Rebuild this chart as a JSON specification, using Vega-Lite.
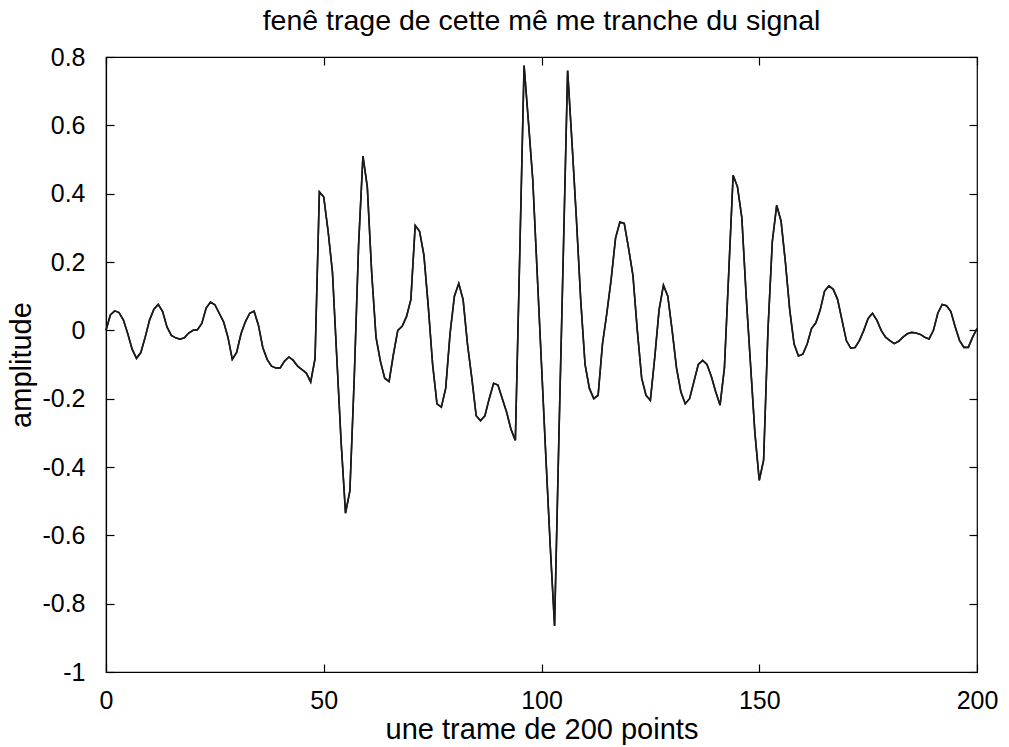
{
  "$schema": "https://vega.github.io/schema/vega-lite/v6.json",
  "width": 871,
  "height": 615,
  "autosize": {"type": "none"},
  "padding": {"left": 106, "top": 57, "right": 32, "bottom": 75},
  "background": "white",
  "config": {
    "view": {"stroke": "black", "strokeWidth": 1.2},
    "font": "Liberation Sans",
    "axis": {
      "grid": false,
      "domainColor": "black",
      "domainWidth": 1.2,
      "tickColor": "black",
      "tickWidth": 1.2,
      "tickSize": -8,
      "labelFont": "Liberation Sans",
      "labelFontSize": 25,
      "labelColor": "black",
      "labelFlush": false,
      "labelOverlap": false,
      "titleFont": "Liberation Sans",
      "titleFontSize": 29,
      "titleFontWeight": "normal",
      "titleColor": "black"
    }
  },
  "title": {
    "text": "fenê trage de cette mê me tranche du signal",
    "font": "Liberation Sans",
    "fontSize": 28.5,
    "fontWeight": "normal",
    "color": "black",
    "offset": 10
  },
  "data": {
    "values": [
      {"n": 0, "a": 0.0}, {"n": 1, "a": 0.045}, {"n": 2, "a": 0.057}, {"n": 3, "a": 0.052}, {"n": 4, "a": 0.03},
      {"n": 5, "a": -0.01}, {"n": 6, "a": -0.055}, {"n": 7, "a": -0.082}, {"n": 8, "a": -0.065}, {"n": 9, "a": -0.02},
      {"n": 10, "a": 0.03}, {"n": 11, "a": 0.062}, {"n": 12, "a": 0.076}, {"n": 13, "a": 0.055}, {"n": 14, "a": 0.01},
      {"n": 15, "a": -0.015}, {"n": 16, "a": -0.022}, {"n": 17, "a": -0.026}, {"n": 18, "a": -0.022}, {"n": 19, "a": -0.008},
      {"n": 20, "a": 0.0}, {"n": 21, "a": 0.002}, {"n": 22, "a": 0.02}, {"n": 23, "a": 0.065}, {"n": 24, "a": 0.083},
      {"n": 25, "a": 0.075}, {"n": 26, "a": 0.05}, {"n": 27, "a": 0.025}, {"n": 28, "a": -0.02}, {"n": 29, "a": -0.085},
      {"n": 30, "a": -0.065}, {"n": 31, "a": -0.01}, {"n": 32, "a": 0.025}, {"n": 33, "a": 0.05}, {"n": 34, "a": 0.056},
      {"n": 35, "a": 0.015}, {"n": 36, "a": -0.05}, {"n": 37, "a": -0.085}, {"n": 38, "a": -0.105}, {"n": 39, "a": -0.11},
      {"n": 40, "a": -0.11}, {"n": 41, "a": -0.09}, {"n": 42, "a": -0.078}, {"n": 43, "a": -0.088}, {"n": 44, "a": -0.105},
      {"n": 45, "a": -0.115}, {"n": 46, "a": -0.125}, {"n": 47, "a": -0.151}, {"n": 48, "a": -0.083}, {"n": 49, "a": 0.405},
      {"n": 50, "a": 0.39}, {"n": 51, "a": 0.29}, {"n": 52, "a": 0.17}, {"n": 53, "a": -0.08}, {"n": 54, "a": -0.33},
      {"n": 55, "a": -0.535}, {"n": 56, "a": -0.47}, {"n": 57, "a": -0.14}, {"n": 58, "a": 0.25}, {"n": 59, "a": 0.51},
      {"n": 60, "a": 0.42}, {"n": 61, "a": 0.17}, {"n": 62, "a": -0.02}, {"n": 63, "a": -0.09}, {"n": 64, "a": -0.14},
      {"n": 65, "a": -0.15}, {"n": 66, "a": -0.07}, {"n": 67, "a": 0.0}, {"n": 68, "a": 0.012}, {"n": 69, "a": 0.04},
      {"n": 70, "a": 0.09}, {"n": 71, "a": 0.307}, {"n": 72, "a": 0.29}, {"n": 73, "a": 0.22}, {"n": 74, "a": 0.07},
      {"n": 75, "a": -0.1}, {"n": 76, "a": -0.215}, {"n": 77, "a": -0.225}, {"n": 78, "a": -0.17}, {"n": 79, "a": -0.01},
      {"n": 80, "a": 0.1}, {"n": 81, "a": 0.137}, {"n": 82, "a": 0.09}, {"n": 83, "a": -0.04}, {"n": 84, "a": -0.14},
      {"n": 85, "a": -0.25}, {"n": 86, "a": -0.265}, {"n": 87, "a": -0.25}, {"n": 88, "a": -0.2}, {"n": 89, "a": -0.155},
      {"n": 90, "a": -0.16}, {"n": 91, "a": -0.2}, {"n": 92, "a": -0.24}, {"n": 93, "a": -0.29}, {"n": 94, "a": -0.322},
      {"n": 95, "a": 0.22}, {"n": 96, "a": 0.775}, {"n": 97, "a": 0.61}, {"n": 98, "a": 0.44}, {"n": 99, "a": 0.17},
      {"n": 100, "a": -0.1}, {"n": 101, "a": -0.37}, {"n": 102, "a": -0.63}, {"n": 103, "a": -0.865}, {"n": 104, "a": -0.31},
      {"n": 105, "a": 0.22}, {"n": 106, "a": 0.76}, {"n": 107, "a": 0.55}, {"n": 108, "a": 0.33}, {"n": 109, "a": 0.09},
      {"n": 110, "a": -0.1}, {"n": 111, "a": -0.17}, {"n": 112, "a": -0.2}, {"n": 113, "a": -0.19}, {"n": 114, "a": -0.04},
      {"n": 115, "a": 0.05}, {"n": 116, "a": 0.15}, {"n": 117, "a": 0.27}, {"n": 118, "a": 0.317}, {"n": 119, "a": 0.313},
      {"n": 120, "a": 0.24}, {"n": 121, "a": 0.16}, {"n": 122, "a": 0.0}, {"n": 123, "a": -0.14}, {"n": 124, "a": -0.19},
      {"n": 125, "a": -0.205}, {"n": 126, "a": -0.08}, {"n": 127, "a": 0.06}, {"n": 128, "a": 0.132}, {"n": 129, "a": 0.1},
      {"n": 130, "a": 0.0}, {"n": 131, "a": -0.11}, {"n": 132, "a": -0.18}, {"n": 133, "a": -0.215}, {"n": 134, "a": -0.2},
      {"n": 135, "a": -0.15}, {"n": 136, "a": -0.1}, {"n": 137, "a": -0.088}, {"n": 138, "a": -0.1}, {"n": 139, "a": -0.135},
      {"n": 140, "a": -0.18}, {"n": 141, "a": -0.219}, {"n": 142, "a": -0.11}, {"n": 143, "a": 0.17}, {"n": 144, "a": 0.454},
      {"n": 145, "a": 0.42}, {"n": 146, "a": 0.33}, {"n": 147, "a": 0.1}, {"n": 148, "a": -0.1}, {"n": 149, "a": -0.3},
      {"n": 150, "a": -0.439}, {"n": 151, "a": -0.38}, {"n": 152, "a": 0.0}, {"n": 153, "a": 0.26}, {"n": 154, "a": 0.366},
      {"n": 155, "a": 0.32}, {"n": 156, "a": 0.2}, {"n": 157, "a": 0.06}, {"n": 158, "a": -0.04}, {"n": 159, "a": -0.075},
      {"n": 160, "a": -0.07}, {"n": 161, "a": -0.04}, {"n": 162, "a": 0.005}, {"n": 163, "a": 0.022}, {"n": 164, "a": 0.06},
      {"n": 165, "a": 0.115}, {"n": 166, "a": 0.13}, {"n": 167, "a": 0.12}, {"n": 168, "a": 0.09}, {"n": 169, "a": 0.03},
      {"n": 170, "a": -0.03}, {"n": 171, "a": -0.052}, {"n": 172, "a": -0.05}, {"n": 173, "a": -0.03}, {"n": 174, "a": 0.0},
      {"n": 175, "a": 0.035}, {"n": 176, "a": 0.05}, {"n": 177, "a": 0.03}, {"n": 178, "a": 0.0}, {"n": 179, "a": -0.02},
      {"n": 180, "a": -0.03}, {"n": 181, "a": -0.039}, {"n": 182, "a": -0.032}, {"n": 183, "a": -0.02}, {"n": 184, "a": -0.01},
      {"n": 185, "a": -0.006}, {"n": 186, "a": -0.008}, {"n": 187, "a": -0.012}, {"n": 188, "a": -0.02}, {"n": 189, "a": -0.025},
      {"n": 190, "a": 0.0}, {"n": 191, "a": 0.05}, {"n": 192, "a": 0.076}, {"n": 193, "a": 0.072}, {"n": 194, "a": 0.055},
      {"n": 195, "a": 0.01}, {"n": 196, "a": -0.03}, {"n": 197, "a": -0.05}, {"n": 198, "a": -0.05}, {"n": 199, "a": -0.02},
      {"n": 200, "a": 0.005}
    ]
  },
  "layer": [
    {
      "mark": {"type": "line", "color": "#1a1a1a", "strokeWidth": 1.6},
      "encoding": {
        "x": {
          "field": "n", "type": "quantitative",
          "scale": {"domain": [0, 200], "nice": false, "zero": false},
          "axis": {"orient": "bottom", "values": [0, 50, 100, 150, 200], "labelPadding": 24, "title": "une trame de 200 points", "titleBaseline": "alphabetic", "titleY": 66}
        },
        "y": {
          "field": "a", "type": "quantitative",
          "scale": {"domain": [-1, 0.8], "nice": false, "zero": false},
          "axis": {"orient": "left", "values": [-1, -0.8, -0.6, -0.4, -0.2, 0, 0.2, 0.4, 0.6, 0.8], "format": ".1~f", "labelExpr": "replace(datum.label, '\u2212', '-')", "labelPadding": 29, "title": "amplitude", "titlePadding": 5}
        }
      }
    },
    {
      "mark": {"type": "line", "color": "#1a1a1a", "strokeWidth": 1.6},
      "encoding": {
        "x": {
          "field": "n", "type": "quantitative",
          "scale": {"domain": [0, 200], "nice": false, "zero": false},
          "axis": {"orient": "top", "values": [0, 50, 100, 150, 200], "labels": false, "title": null, "domain": false}
        },
        "y": {
          "field": "a", "type": "quantitative",
          "scale": {"domain": [-1, 0.8], "nice": false, "zero": false},
          "axis": {"orient": "right", "values": [-1, -0.8, -0.6, -0.4, -0.2, 0, 0.2, 0.4, 0.6, 0.8], "labels": false, "title": null, "domain": false}
        }
      }
    }
  ],
  "resolve": {"axis": {"x": "independent", "y": "independent"}}
}
